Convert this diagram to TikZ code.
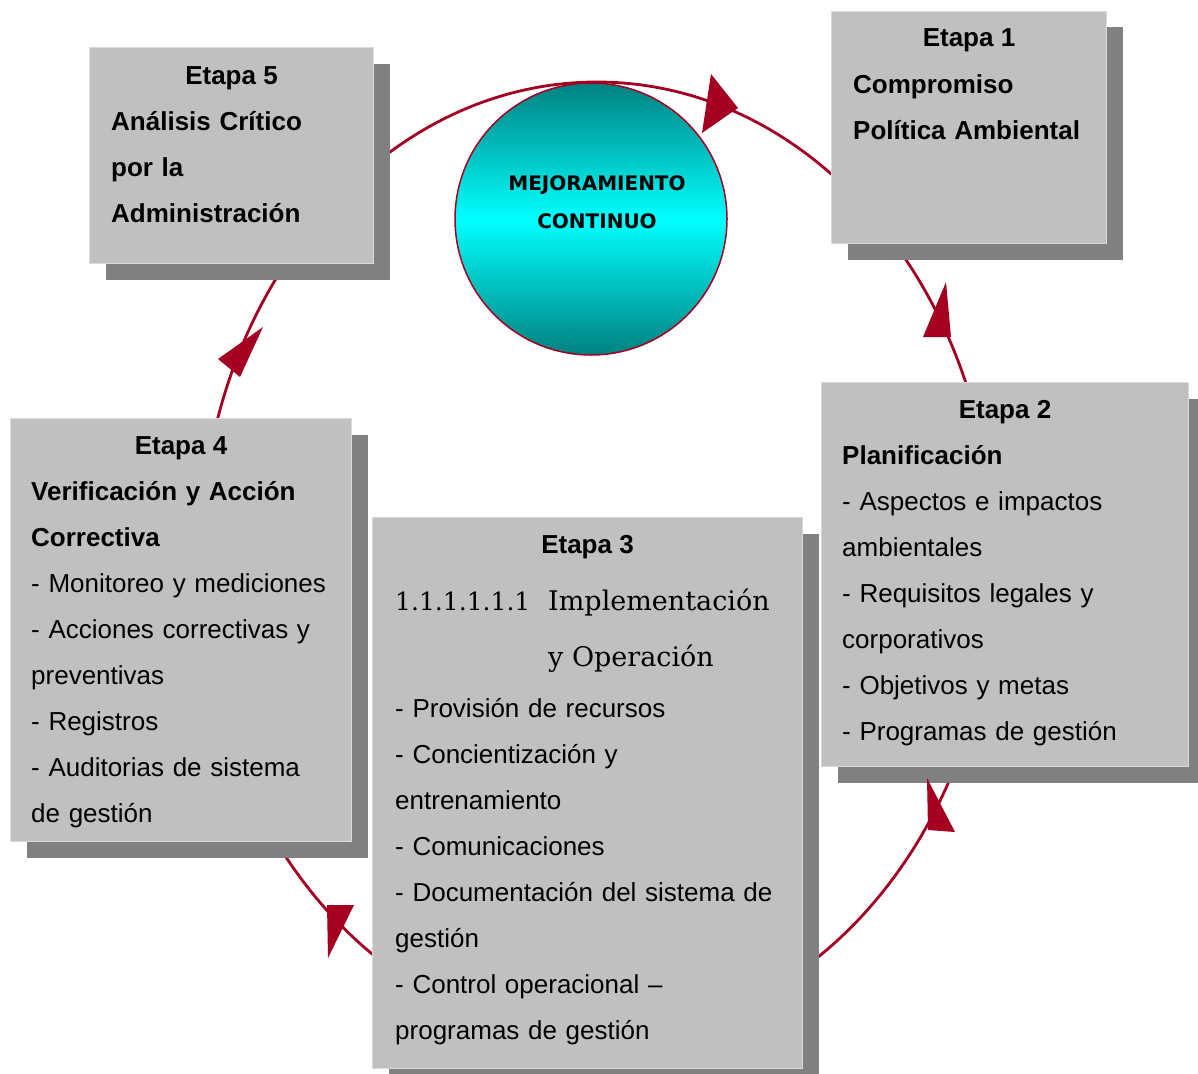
\documentclass[tikz,border=0pt]{standalone}
\usepackage{fontspec}
\setmainfont{Liberation Sans}
\newfontfamily\ringfont{DejaVu Sans}
\newfontfamily\numserif{DejaVu Serif}
\usetikzlibrary{shadows}

\definecolor{ringred}{RGB}{165,0,33}
\definecolor{boxgray}{RGB}{192,192,192}
\definecolor{boxedge}{RGB}{218,218,218}
\definecolor{shadegray}{RGB}{128,128,128}
\definecolor{tealdark}{RGB}{0,128,128}
\definecolor{tealmid}{RGB}{0,255,255}

\tikzset{
  stagebox/.style={draw=boxedge, line width=1pt, fill=boxgray, anchor=north west,
    inner sep=0pt,
    drop shadow={shadow xshift=16pt, shadow yshift=-16pt, fill=shadegray, opacity=1, draw=none}},
  stagetitle/.style={anchor=base, inner sep=0pt, font=\fontsize{26}{46}\selectfont\bfseries},
  stagebody/.style={anchor=base west, inner sep=0pt, text width=440pt, align=left,
    font=\fontsize{26}{46}\selectfont},
  serifhead/.style={anchor=base west, inner sep=0pt, font=\numserif\fontsize{27}{30}\selectfont},
  ringline/.style={draw=ringred, line width=2.8pt},
  arrowtri/.style={fill=ringred, draw=none},
}

\begin{document}
\begin{tikzpicture}[x=1pt, y=-1pt]
  \useasboundingbox (0,0) rectangle (1198,1073);

  % central circle with vertical teal shading
  \node[circle, minimum size=272pt, inner sep=0pt, draw=ringred, line width=1.5pt,
        top color=tealdark, bottom color=tealdark, middle color=tealmid] (core) at (591,219) {};
  \node[anchor=base, inner sep=0pt, text width=240pt, align=center,
        font=\ringfont\fontsize{20}{38}\selectfont\bfseries] (coretext) at (597,190)
        {MEJORAMIENTO\\CONTINUO};

  % cycle ring
  \coordinate (ringcenter) at (597,560);
  \draw[ringline] (ringcenter) ellipse [x radius=397, y radius=478];

  % stage boxes
  \node[stagebox, minimum width=275pt, minimum height=232pt] (e1) at (831,11) {};
  \node[stagebox, minimum width=367pt, minimum height=384pt] (e2) at (821,382) {};
  \node[stagebox, minimum width=430pt, minimum height=551pt] (e3) at (372,517) {};
  \node[stagebox, minimum width=341pt, minimum height=423pt] (e4) at (10,418) {};
  \node[stagebox, minimum width=284pt, minimum height=216pt] (e5) at (89,47) {};

  % Etapa 1
  \node[stagetitle] (e1t) at (e1.north |- 0,47) {Etapa 1};
  \node[stagebody, font=\fontsize{26}{46}\selectfont\bfseries] (e1b) at (853,93)
    {Compromiso\\Política Ambiental};

  % Etapa 2
  \node[stagetitle] (e2t) at (e2.north |- 0,418) {Etapa 2};
  \node[stagebody] (e2b) at (842,464)
    {{\bfseries Planificación}\\- Aspectos e impactos\\ambientales\\- Requisitos legales y\\corporativos\\- Objetivos y metas\\- Programas de gestión};

  % Etapa 3
  \node[stagetitle] (e3t) at (e3.north |- 0,553) {Etapa 3};
  \node[serifhead, font=\numserif\fontsize{25}{30}\selectfont] (e3n) at (395,610) {1.1.1.1.1.1};
  \node[serifhead] (e3h1) at (548,610) {Implementación};
  \node[serifhead] (e3h2) at (548,666) {y Operación};
  \node[stagebody] (e3b) at (395,717)
    {- Provisión de recursos\\- Concientización y\\entrenamiento\\- Comunicaciones\\- Documentación del sistema de\\gestión\\- Control operacional –\\programas de gestión};

  % Etapa 4
  \node[stagetitle] (e4t) at (e4.north |- 0,454) {Etapa 4};
  \node[stagebody] (e4b) at (31,500)
    {{\bfseries Verificación y Acción}\\{\bfseries Correctiva}\\- Monitoreo y mediciones\\- Acciones correctivas y\\preventivas\\- Registros\\- Auditorias de sistema\\de gestión};

  % Etapa 5
  \node[stagetitle] (e5t) at (e5.north |- 0,84) {Etapa 5};
  \node[stagebody, font=\fontsize{26}{46}\selectfont\bfseries] (e5b) at (111,130)
    {Análisis Crítico\\por la\\Administración};

  % arrowheads on the ring
  \fill[arrowtri] (738,108) -- (711,74) -- (702,133) -- cycle;
  \fill[arrowtri] (946,282) -- (923,337) -- (951,337) -- cycle;
  \fill[arrowtri] (927,778) -- (928,830) -- (955,832) -- cycle;
  \fill[arrowtri] (327,905) -- (354,905) -- (328,958) -- cycle;
  \fill[arrowtri] (263,327) -- (218,359) -- (240,377) -- cycle;
\end{tikzpicture}
\end{document}
